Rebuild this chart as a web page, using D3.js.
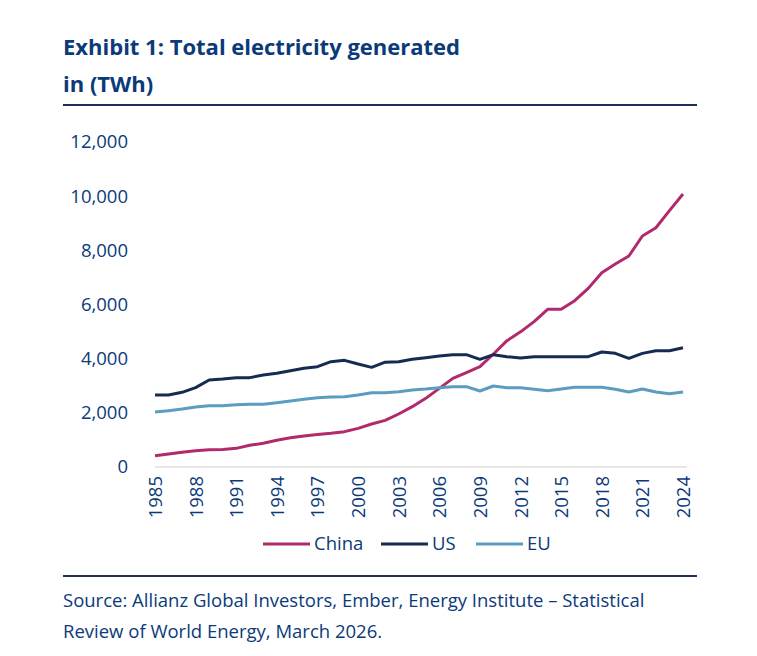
<!DOCTYPE html>
<html>
<head>
<meta charset="utf-8">
<script src="https://cdn.jsdelivr.net/npm/d3@7"></script>
<style>
  body { margin: 0; background: #fff; }
  text { font-family: "Open Sans", "Noto Sans", sans-serif; }
</style>
</head>
<body>
<div id="chart"></div>
<script>
//////////////////////////////////////////////
// Data //////////////////////////////////////
//////////////////////////////////////////////
var years = d3.range(1985, 2025);

var china = [418, 480, 541, 600, 640, 650, 689, 800, 880, 990, 1083, 1145, 1200, 1243, 1305,
             1427, 1587, 1720, 1957, 2228, 2535, 2904, 3273, 3483, 3704, 4172, 4664, 4990, 5366, 5822,
             5822, 6141, 6596, 7175, 7495, 7790, 8529, 8836, 9464, 10079];

var us = [2658, 2658, 2757, 2929, 3212, 3249, 3298, 3300, 3397, 3458, 3557, 3643, 3704, 3889, 3938,
          3803, 3680, 3870, 3889, 3975, 4036, 4098, 4147, 4147, 3975, 4147, 4073, 4024, 4073, 4073,
          4073, 4073, 4073, 4246, 4196, 4012, 4196, 4295, 4295, 4406];

var eu = [2030, 2080, 2141, 2215, 2264, 2264, 2301, 2314, 2314, 2375, 2437, 2498, 2560, 2584, 2597,
          2658, 2744, 2744, 2781, 2843, 2880, 2929, 2966, 2966, 2806, 2990, 2929, 2929, 2868, 2818,
          2880, 2941, 2941, 2941, 2868, 2769, 2880, 2769, 2707, 2769];

var yTicks = [0, 2000, 4000, 6000, 8000, 10000, 12000];
var xTicks = d3.range(1985, 2025, 3); // every third year

var series = [
  {name: "China", values: china, color: "#b02a6c"},
  {name: "US",    values: us,    color: "#152b52"},
  {name: "EU",    values: eu,    color: "#5b9dc0"}
];

var textColor = "#0b3a7a";

//////////////////////////////////////////////
// Chart Config /////////////////////////////
//////////////////////////////////////////////
var W = 757, H = 656;
var plot = {left: 155, right: 683, top: 142, bottom: 467};

var svg = d3.select("#chart").append("svg")
    .attr("width", W)
    .attr("height", H);

// scales
var xScale = d3.scaleLinear().domain([1985, 2024]).range([plot.left, plot.right]);
var yScale = d3.scaleLinear().domain([0, 12000]).range([plot.bottom, plot.top]);

// title
var title = svg.append("text")
    .attr("x", 63)
    .attr("fill", textColor)
    .style("font-size", "22px")
    .style("font-weight", "700");
title.append("tspan").attr("x", 63).attr("y", 55).text("Exhibit 1: Total electricity generated");
title.append("tspan").attr("x", 63).attr("y", 92).text("in (TWh)");

// rules top / bottom
svg.append("line")
    .attr("x1", 63).attr("x2", 697).attr("y1", 105).attr("y2", 105)
    .style("stroke", "#1f2f5c").style("stroke-width", 2);
svg.append("line")
    .attr("x1", 63).attr("x2", 697).attr("y1", 576).attr("y2", 576)
    .style("stroke", "#1f2f5c").style("stroke-width", 2);

// y axis (labels only)
var yAxis = d3.axisLeft(yScale)
    .tickValues(yTicks)
    .tickFormat(d3.format(","))
    .tickSize(0)
    .tickPadding(0);

var yAxisEl = svg.append("g")
    .attr("transform", "translate(128,0)")
    .call(yAxis);
yAxisEl.select(".domain").remove();
yAxisEl.selectAll("text")
    .attr("fill", textColor)
    .style("font-size", "18.5px")
    .style("font-family", "'Open Sans', sans-serif");

// x axis, gray baseline + rotated year labels
var xAxis = d3.axisBottom(xScale)
    .tickValues(xTicks)
    .tickFormat(d3.format("d"))
    .tickSize(0)
    .tickPadding(0);

var xAxisEl = svg.append("g")
    .attr("transform", "translate(0," + plot.bottom + ")")
    .call(xAxis);
xAxisEl.select(".domain")
    .attr("d", "M" + plot.left + ",0H" + (plot.right + 4))
    .style("stroke", "#d0d0d0")
    .style("stroke-width", 1.2);
xAxisEl.selectAll("text")
    .attr("fill", textColor)
    .style("font-size", "18.5px")
    .style("font-family", "'Open Sans', sans-serif")
    .attr("text-anchor", "end")
    .attr("dy", "0.35em")
    .attr("transform", "translate(0,9) rotate(-90)")
    .attr("x", 0)
    .attr("y", 0);

// lines
var line = d3.line()
    .x(function(d, i) { return xScale(years[i]); })
    .y(function(d) { return yScale(d); });

svg.selectAll(".trace")
    .data(series)
    .enter().append("path")
    .attr("class", "trace")
    .attr("d", function(s) { return line(s.values); })
    .style("fill", "none")
    .style("stroke", function(s) { return s.color; })
    .style("stroke-width", "3px")
    .style("stroke-linejoin", "round");

// legend
var legendX = [263, 381, 476];
var legend = svg.selectAll(".legend")
    .data(series)
    .enter().append("g")
    .attr("class", "legend")
    .attr("transform", function(d, i) { return "translate(" + legendX[i] + ",544)"; });
legend.append("line")
    .attr("x1", 0).attr("x2", 47)
    .style("stroke", function(d) { return d.color; })
    .style("stroke-width", 3);
legend.append("text")
    .attr("x", 51)
    .attr("dy", "0.35em")
    .attr("fill", textColor)
    .style("font-size", "18.5px")
    .text(function(d) { return d.name; });

// source
var source = svg.append("text")
    .attr("fill", textColor)
    .style("font-size", "18.5px");
source.append("tspan").attr("x", 63).attr("y", 607)
    .text("Source: Allianz Global Investors, Ember, Energy Institute \u2013 Statistical");
source.append("tspan").attr("x", 63).attr("y", 638)
    .text("Review of World Energy, March 2026.");
</script>
</body>
</html>
